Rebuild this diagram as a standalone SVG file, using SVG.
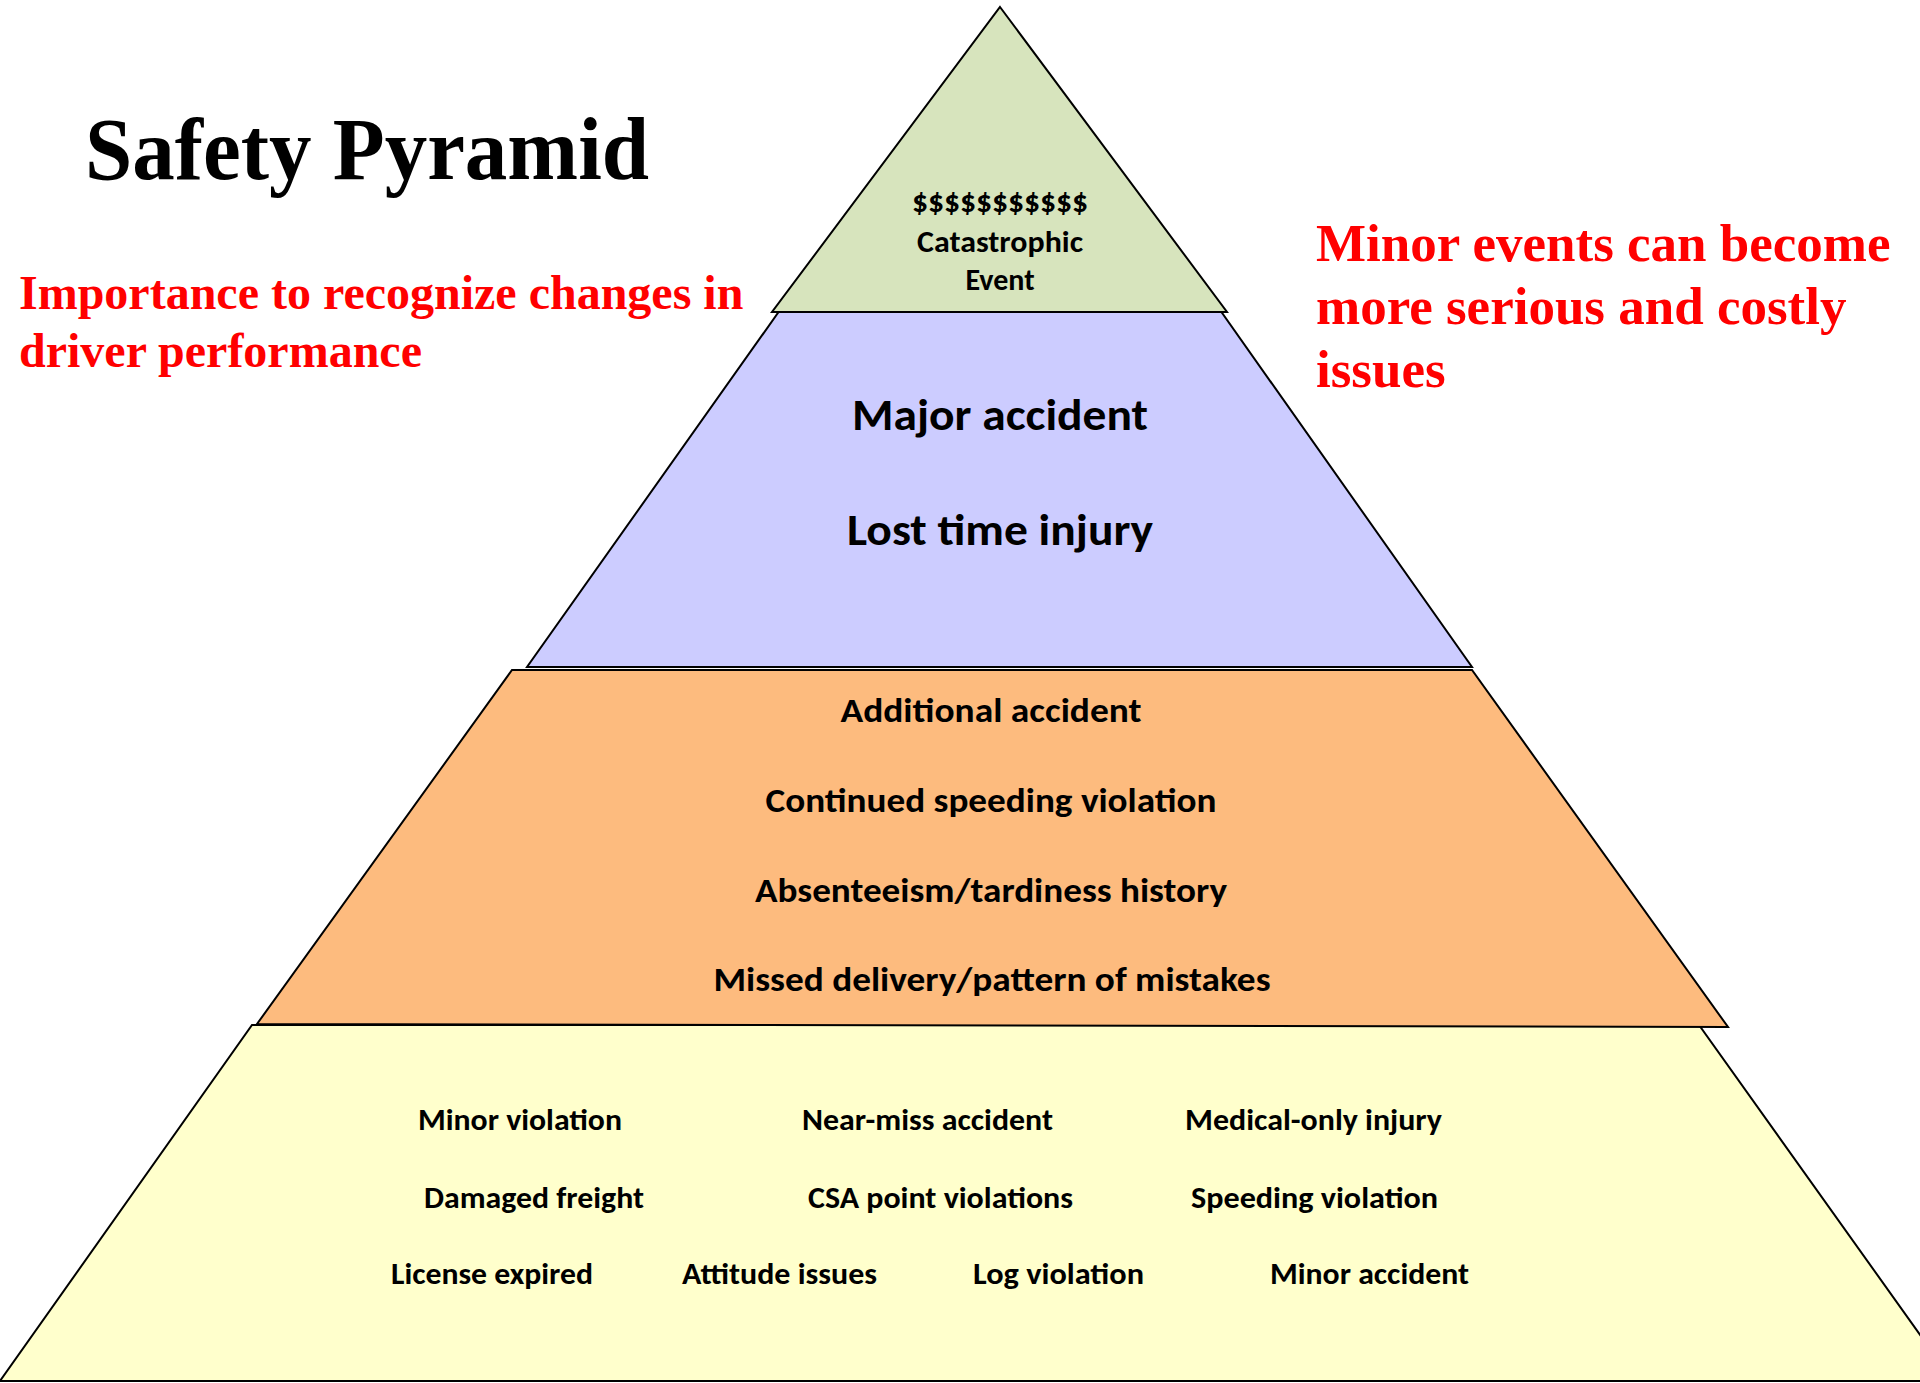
<svg xmlns="http://www.w3.org/2000/svg" width="1920" height="1383" viewBox="0 0 1920 1383">
<style>
.tier{stroke:#000;stroke-width:2;stroke-linejoin:miter}
.lbl{font-family:Carlito,Calibri,Lato,"Open Sans",sans-serif;font-weight:bold;fill:#000;text-anchor:middle}
.lbl2{font-family:Carlito,Calibri,Lato,"Open Sans",sans-serif;font-weight:bold;fill:#000}
.serif{font-family:"Liberation Serif","Times New Roman",serif;font-weight:bold}
.red{fill:#FF0000}
</style>
<rect x="0" y="0" width="1920" height="1383" fill="#FFFFFF"/>

<g id="tier-base">
<polygon class="tier" points="252,1025 1699,1025 1953,1381 0,1381" fill="#FFFFCC"/>
<g font-size="30">
<text class="lbl2" x="418" y="1130" textLength="204" lengthAdjust="spacingAndGlyphs">Minor violation</text>
<text class="lbl2" x="802" y="1130" textLength="251" lengthAdjust="spacingAndGlyphs">Near-miss accident</text>
<text class="lbl2" x="1185" y="1130" textLength="257" lengthAdjust="spacingAndGlyphs">Medical-only injury</text>
<text class="lbl2" x="424" y="1208" textLength="220" lengthAdjust="spacingAndGlyphs">Damaged freight</text>
<text class="lbl2" x="808" y="1208" textLength="265" lengthAdjust="spacingAndGlyphs">CSA point violations</text>
<text class="lbl2" x="1191" y="1208" textLength="247" lengthAdjust="spacingAndGlyphs">Speeding violation</text>
<text class="lbl2" x="391" y="1284" textLength="202" lengthAdjust="spacingAndGlyphs">License expired</text>
<text class="lbl2" x="682" y="1284" textLength="195" lengthAdjust="spacingAndGlyphs">Attitude issues</text>
<text class="lbl2" x="973" y="1284" textLength="171" lengthAdjust="spacingAndGlyphs">Log violation</text>
<text class="lbl2" x="1270" y="1284" textLength="199" lengthAdjust="spacingAndGlyphs">Minor accident</text>
</g>
</g>

<g id="tier-warning">
<polygon class="tier" points="512,670 1472,670 1728,1027 257,1024" fill="#FDBB7E"/>
<g font-size="34">
<text class="lbl" x="991" y="722" textLength="301" lengthAdjust="spacingAndGlyphs">Additional accident</text>
<text class="lbl" x="991" y="812" textLength="451" lengthAdjust="spacingAndGlyphs">Continued speeding violation</text>
<text class="lbl" x="991" y="902" textLength="472" lengthAdjust="spacingAndGlyphs">Absenteeism/tardiness history</text>
<text class="lbl" x="992" y="991" textLength="557" lengthAdjust="spacingAndGlyphs">Missed delivery/pattern of mistakes</text>
</g>
</g>

<g id="tier-major">
<polygon class="tier" points="780,310 1220,310 1472,667 527,667" fill="#CCCCFF"/>
<g font-size="44">
<text class="lbl" x="1000" y="430" textLength="296" lengthAdjust="spacingAndGlyphs">Major accident</text>
<text class="lbl" x="1000" y="545" textLength="306" lengthAdjust="spacingAndGlyphs">Lost time injury</text>
</g>
</g>

<g id="tier-catastrophic">
<polygon class="tier" points="1000,7 1227,312 772,312" fill="#D7E4BD"/>
<g font-size="30">
<text class="lbl" x="1000" y="212" textLength="176" lengthAdjust="spacingAndGlyphs">$$$$$$$$$$$</text>
<text class="lbl" x="1000" y="252" textLength="166" lengthAdjust="spacingAndGlyphs">Catastrophic</text>
<text class="lbl" x="1000" y="290">Event</text>
</g>
</g>

<g id="title">
<text class="serif" x="85" y="179" font-size="88" fill="#000" textLength="564" lengthAdjust="spacingAndGlyphs">Safety Pyramid</text>
</g>

<g id="note-left">
<text class="serif red" font-size="48"><tspan x="19" y="309">Importance to recognize changes in</tspan><tspan x="19" y="367">driver performance</tspan></text>
</g>

<g id="note-right">
<text class="serif red" font-size="53"><tspan x="1316" y="261">Minor events can become</tspan><tspan x="1316" y="324">more serious and costly</tspan><tspan x="1316" y="387">issues</tspan></text>
</g>
</svg>
